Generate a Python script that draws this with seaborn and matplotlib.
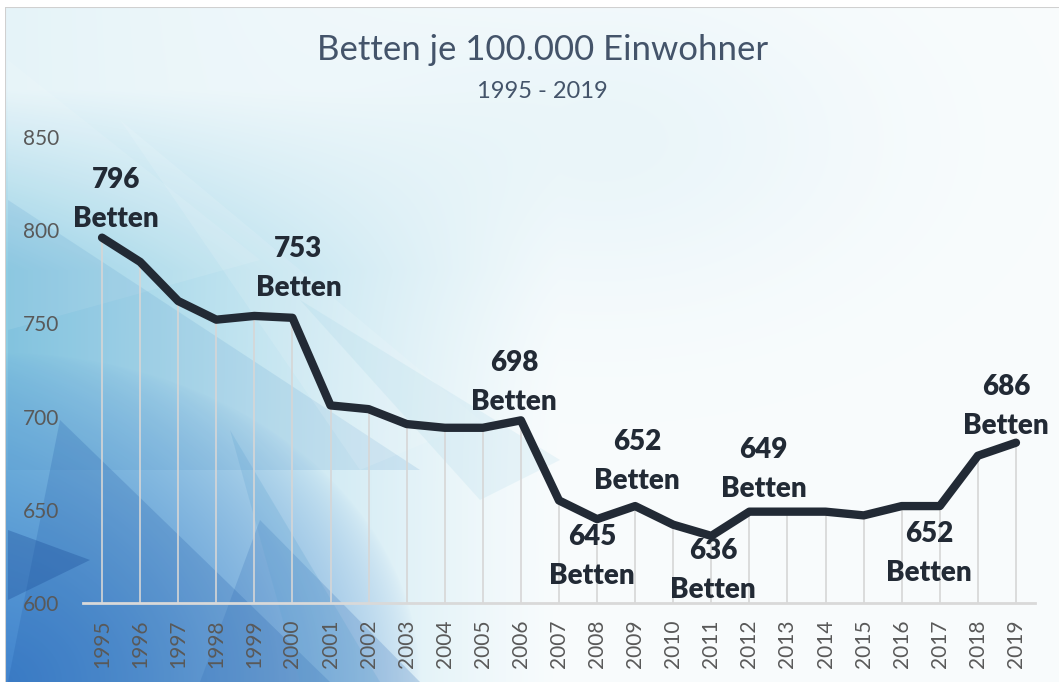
import numpy as np
import pandas as pd
import matplotlib
matplotlib.use("Agg")
import matplotlib.pyplot as plt
from matplotlib.patches import Polygon, Rectangle
import seaborn as sns

# ---------------- data ----------------
years = [1995, 1996, 1997, 1998, 1999, 2000, 2001, 2002, 2003, 2004, 2005, 2006,
         2007, 2008, 2009, 2010, 2011, 2012, 2013, 2014, 2015, 2016, 2017, 2018, 2019]
betten = [796, 783, 762, 752, 754, 753, 706, 704, 696, 694, 694, 698,
          655, 645, 652, 642, 636, 649, 649, 649, 647, 652, 652, 679, 686]
label_years = [1995, 2000, 2006, 2008, 2009, 2011, 2012, 2017, 2019]
title = "Betten je 100.000 Einwohner"
subtitle = "1995 - 2019"
unit = "Betten"
y_ticks = [600, 650, 700, 750, 800, 850]

# label offsets in pixels (dx, dy) – styling only
label_offsets = [(14, 38), (6, 49), (-7, 38), (-5, -37), (2, 45),
                 (2, -35), (14, 42), (-11, -47), (-10, 36)]

df = pd.DataFrame({"Jahr": years, "Betten": betten})

sns.set_style("white")
plt.rcParams["font.family"] = ["Lato", "DejaVu Sans"]

W, H = 1059, 682
fig = plt.figure(figsize=(W / 100, H / 100), dpi=100)
fig.patch.set_facecolor("white")

# ---------------- decorative background ----------------
bg = fig.add_axes([0, 0, 1, 1], zorder=-10)
bg.set_xlim(0, W)
bg.set_ylim(H, 0)
bg.axis("off")
yy, xx = np.mgrid[0:H, 0:W].astype(float)
img = np.ones((H, W, 3)) * np.array([0.975, 0.988, 0.992])
cyan = np.array([0.50, 0.78, 0.88])
a1 = np.clip(1 - xx / 560, 0, 1) ** 1.2 * 0.9 * np.clip((yy - 50) / 220, 0.18, 1)
a1 += 0.12 * np.exp(-(((xx - 600) / 260) ** 2 + ((yy - 140) / 160) ** 2))
a1 = np.clip(a1, 0, 1)[..., None]
img = img * (1 - a1) + cyan * a1
blue = np.array([0.24, 0.50, 0.80])
d = np.sqrt((xx / 420) ** 2 + ((H - yy) / 330) ** 2)
a2 = (np.clip(1 - d, 0, 1) ** 0.7 * 0.95)[..., None]
img = img * (1 - a2) + blue * a2
bg.imshow(img, extent=(0, W, H, 0), aspect="auto", zorder=0)

facets = [
    ([(8, 60), (260, 260), (8, 330)], "white", 0.10),
    ([(8, 200), (420, 470), (8, 470)], "#4a90c8", 0.15),
    ([(60, 420), (330, 682), (8, 682)], "#1f5aa8", 0.22),
    ([(260, 520), (420, 682), (200, 682)], "#2f6bb5", 0.22),
    ([(120, 120), (480, 420), (360, 470)], "white", 0.12),
    ([(8, 530), (90, 560), (8, 600)], "#1d4f9a", 0.35),
    ([(300, 300), (560, 460), (480, 500)], "#7fc2dc", 0.12),
    ([(230, 430), (300, 682), (380, 682)], "#5aa0d0", 0.22),
]
for pts, col, al in facets:
    bg.add_patch(Polygon(pts, closed=True, facecolor=col, alpha=al,
                         edgecolor="none", zorder=1))
# chart border
bg.add_patch(Rectangle((5, 7), W, H, fill=False, edgecolor="#D0D0D0",
                       linewidth=1.5, zorder=2))
bg.add_patch(Rectangle((0, 0), 5, H, facecolor="white", edgecolor="none", zorder=2))
bg.add_patch(Rectangle((0, 0), W, 7, facecolor="white", edgecolor="none", zorder=2))

# ---------------- main chart ----------------
left, right, top, bottom = 83, 1035, 137, 603
ax = fig.add_axes([left / W, 1 - bottom / H, (right - left) / W, (bottom - top) / H])
ax.patch.set_alpha(0)

line_col = "#222A35"
ax.vlines(df["Jahr"], y_ticks[0], df["Betten"], color="#D6D6D6", linewidth=1.2, zorder=1)
sns.lineplot(data=df, x="Jahr", y="Betten", ax=ax, color=line_col, linewidth=6,
             zorder=3, solid_joinstyle="round", solid_capstyle="round")

ax.set_xlim(years[0] - 0.5, years[-1] + 0.5)
ax.set_ylim(y_ticks[0], y_ticks[-1])
ax.set_yticks(y_ticks)
ax.set_xticks(years)
ax.set_xticklabels([str(y) for y in years], rotation=90)
ax.tick_params(axis="y", length=0, pad=17, labelsize=15, labelcolor="#595959")
ax.tick_params(axis="x", length=0, pad=12, labelsize=15, labelcolor="#595959")
for lab in ax.get_yticklabels():
    lab.set_horizontalalignment("right")
ax.set_xlabel("")
ax.set_ylabel("")
for s in ["top", "right", "left"]:
    ax.spines[s].set_visible(False)
ax.spines["bottom"].set_color("#D9D9D9")
ax.spines["bottom"].set_linewidth(2)
ax.grid(False)

for yr, (dx, dy) in zip(label_years, label_offsets):
    v = betten[years.index(yr)]
    ax.annotate(f"{v}\n{unit}", xy=(yr, v), xytext=(dx, dy), textcoords="offset pixels",
                ha="center", va="center", fontsize=20, fontweight="heavy",
                color=line_col, linespacing=1.62, zorder=5)

fig.text(543 / W, 1 - 50 / H, title, ha="center", va="center", fontsize=25,
         color="#44546A")
fig.text(542 / W, 1 - 92 / H, subtitle, ha="center", va="center", fontsize=17,
         color="#44546A")

fig.savefig("out.png", dpi=100)
